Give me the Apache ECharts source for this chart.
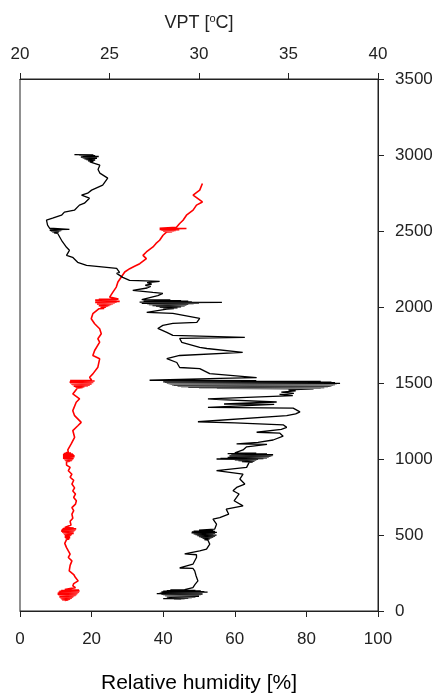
<!DOCTYPE html>
<html>
<head>
<meta charset="utf-8">
<script src="https://cdn.jsdelivr.net/npm/echarts@6/dist/echarts.min.js"></script>
<style>
  html, body { margin: 0; padding: 0; background: #fff; }
  #chart { width: 439px; height: 693px; }
</style>
</head>
<body>
<div id="chart"></div>
<script>
// Relative humidity profile: [RH %, altitude m], top of the sounding downwards.
// The dense patches are the level legs flown at each step.
const humidityProfile = [
  [15.2, 3003], [20.5, 3001], [16.5, 2999], [21.0, 2996], [17.5, 2993], [22.0, 2990], [17.0, 2987],
  [21.5, 2984], [17.5, 2981], [21.5, 2978], [18.0, 2975], [21.0, 2972], [18.5, 2969], [21.0, 2966],
  [19.0, 2962], [20.5, 2958], [19.5, 2954],
  [22.3, 2933], [21.8, 2905], [22.3, 2881], [24.5, 2848], [23.1, 2802], [20.0, 2769], [18.9, 2749],
  [17.2, 2736], [19.4, 2716], [18.0, 2683], [16.6, 2670], [15.2, 2637], [12.4, 2624], [11.6, 2604],
  [9.1, 2584], [7.4, 2571], [7.7, 2538], [8.3, 2518],
  [13.8, 2511], [8.3, 2509], [11.8, 2507], [8.3, 2505], [11.5, 2502], [8.6, 2500], [11.0, 2497],
  [9.0, 2494], [10.8, 2491], [9.5, 2488], [10.5, 2485],
  [11.0, 2472], [11.6, 2439], [13.0, 2393], [13.8, 2373], [13.0, 2340], [14.7, 2327], [16.1, 2294],
  [18.6, 2274], [24.2, 2261], [27.0, 2254], [27.8, 2228], [27.0, 2221], [28.7, 2195], [30.6, 2175],
  [35.0, 2172], [39.0, 2168], [35.5, 2160], [36.8, 2150], [35.0, 2143], [36.5, 2135], [35.5, 2125],
  [31.5, 2109], [37.1, 2096], [39.9, 2090], [38.5, 2075],
  [34.0, 2048], [42.0, 2046], [35.0, 2044], [45.0, 2042], [34.5, 2040], [47.0, 2038], [35.0, 2036],
  [48.0, 2034], [33.4, 2032], [56.4, 2030], [35.0, 2028], [50.0, 2026], [34.0, 2024], [48.5, 2022],
  [35.5, 2020], [47.0, 2017], [36.0, 2015], [46.5, 2012], [37.0, 2010], [46.0, 2007], [38.0, 2004],
  [45.0, 2001], [39.0, 1998], [44.0, 1995], [40.0, 1992], [43.0, 1989], [41.0, 1986],
  [35.4, 1964], [42.7, 1958], [50.2, 1925], [49.4, 1899], [42.7, 1892], [39.9, 1879], [38.5, 1859],
  [41.0, 1833], [42.7, 1813], [62.8, 1800], [44.6, 1793], [45.2, 1767], [50.2, 1734], [52.2, 1727],
  [62.2, 1701], [44.6, 1681], [41.0, 1661], [43.8, 1635], [44.6, 1602], [50.2, 1595], [53.0, 1562],
  [66.1, 1536], [55.8, 1530],
  [36.2, 1518], [66.0, 1516], [42.0, 1513], [84.0, 1510], [40.0, 1508], [87.0, 1506], [40.5, 1504],
  [88.0, 1502], [41.0, 1500], [89.4, 1498], [41.5, 1496], [88.5, 1494], [42.0, 1492], [88.0, 1490],
  [42.5, 1488], [87.5, 1486], [43.0, 1484], [87.0, 1482], [44.0, 1480], [86.5, 1478], [45.0, 1476],
  [86.0, 1474], [47.0, 1472], [85.0, 1470], [50.0, 1468], [84.0, 1466], [55.0, 1464], [82.0, 1462],
  [75.0, 1455], [77.0, 1448], [73.0, 1440], [76.5, 1432], [72.5, 1425], [76.2, 1417],
  [76.3, 1410], [52.5, 1396], [56.0, 1390], [71.7, 1375], [57.0, 1362], [71.0, 1360], [52.5, 1340],
  [76.3, 1335], [78.2, 1310], [77.0, 1297], [74.5, 1285], [49.7, 1245], [60.0, 1238], [73.5, 1225],
  [74.5, 1208], [73.0, 1195], [66.1, 1176], [72.6, 1170], [73.5, 1150], [70.7, 1125], [66.5, 1110],
  [60.5, 1099], [69.0, 1096], [63.3, 1080], [62.3, 1060],
  [60.0, 1040], [66.0, 1038], [58.0, 1035], [69.0, 1033], [59.0, 1030], [70.7, 1028], [59.5, 1025],
  [70.5, 1023], [58.5, 1020], [70.0, 1017], [59.0, 1015], [69.5, 1012], [58.0, 1010], [69.0, 1007],
  [56.0, 1004], [68.0, 1002], [54.9, 1000], [66.5, 998], [60.0, 995], [66.0, 992], [61.0, 989],
  [65.5, 986], [62.0, 983], [65.0, 980], [64.0, 978],
  [63.3, 945], [54.9, 923], [62.3, 901], [61.4, 868], [62.8, 835], [60.5, 813], [59.5, 791],
  [61.2, 770], [60.5, 747], [59.8, 725], [62.3, 692], [57.6, 670], [58.3, 637], [55.8, 615],
  [53.9, 604], [54.9, 571], [54.4, 539],
  [50.0, 532], [54.0, 529], [48.5, 526], [54.5, 523], [48.0, 520], [55.0, 517], [47.9, 514],
  [54.5, 511], [48.5, 508], [54.0, 505], [49.0, 502], [54.9, 499], [49.5, 496], [54.5, 493],
  [50.0, 490], [54.0, 487], [50.5, 484], [53.5, 481], [51.0, 478], [53.0, 474], [51.5, 470],
  [52.5, 466],
  [53.0, 440], [52.1, 407], [50.2, 396], [46.0, 376], [49.3, 370], [49.3, 352], [48.3, 308],
  [44.6, 283], [48.3, 281], [48.8, 264], [49.2, 230], [49.7, 198], [48.9, 175], [48.3, 154],
  [46.0, 140], [42.0, 138], [49.0, 136], [41.0, 134], [50.5, 132], [40.0, 130], [51.5, 128],
  [39.5, 126], [52.4, 124], [40.0, 122], [51.0, 120], [39.0, 118], [50.5, 116], [38.2, 114],
  [51.0, 112], [39.5, 110], [50.5, 108], [40.0, 106], [50.0, 104], [40.5, 102], [49.5, 100],
  [41.0, 98], [50.0, 96], [41.5, 94], [49.0, 92], [42.0, 90], [48.0, 88], [41.0, 86], [47.0, 84],
  [40.0, 82], [46.0, 80], [43.0, 78], [45.0, 76]
];

// Virtual potential temperature profile: [VPT °C, altitude m]
const vptProfile = [
  [30.19, 2813], [30.04, 2769], [29.67, 2736], [30.19, 2691], [29.86, 2670], [29.67, 2637],
  [29.30, 2604], [29.11, 2571], [28.92, 2549], [28.74, 2525],
  [27.8, 2518], [29.3, 2516], [27.9, 2514], [28.8, 2512], [27.8, 2510], [28.9, 2508], [27.9, 2506],
  [28.7, 2504], [28.0, 2502], [28.6, 2500], [28.0, 2498], [28.5, 2496], [28.2, 2494],
  [27.99, 2472], [27.80, 2439], [27.60, 2418], [27.43, 2395], [27.06, 2362], [26.87, 2340],
  [27.06, 2318], [26.69, 2285], [26.40, 2268], [26.13, 2252], [25.85, 2230], [25.66, 2197],
  [25.47, 2164], [25.38, 2131], [25.19, 2098], [25.01, 2065],
  [25.5, 2052], [24.4, 2050], [25.2, 2047], [24.2, 2045], [25.4, 2042], [24.2, 2040], [25.57, 2037],
  [24.3, 2035], [25.4, 2032], [24.2, 2030], [25.3, 2027], [24.3, 2025], [25.2, 2022], [24.3, 2020],
  [25.1, 2017], [24.4, 2014], [25.0, 2011], [24.4, 2008], [24.9, 2005], [24.5, 2002], [24.8, 1998],
  [24.5, 1995], [24.7, 1991], [24.4, 1988],
  [24.07, 1956], [23.98, 1923], [24.17, 1890], [24.45, 1857], [24.54, 1824], [24.35, 1791],
  [24.45, 1769], [24.17, 1714], [24.07, 1681], [24.45, 1659], [24.35, 1604], [24.07, 1560],
  [23.89, 1538],
  [24.0, 1518], [22.8, 1516], [24.17, 1513], [22.8, 1511], [24.1, 1508], [22.77, 1506], [24.1, 1503],
  [22.8, 1501], [24.0, 1498], [22.85, 1496], [24.0, 1493], [22.9, 1490], [23.9, 1487], [23.0, 1485],
  [23.8, 1482], [23.0, 1479], [23.6, 1476], [23.1, 1473], [23.5, 1470], [23.2, 1466], [23.3, 1462],
  [22.95, 1428], [23.33, 1396], [23.14, 1373], [22.95, 1318], [23.05, 1285], [23.42, 1241],
  [23.23, 1219], [22.95, 1187], [23.05, 1143], [22.86, 1099], [22.67, 1060],
  [22.7, 1044], [22.55, 1041], [22.85, 1039], [22.45, 1036], [22.95, 1033], [22.4, 1030], [23.0, 1027],
  [22.4, 1024], [23.05, 1021], [22.4, 1018], [23.05, 1015], [22.4, 1012], [23.0, 1009], [22.4, 1006],
  [23.0, 1003], [22.45, 1000], [22.95, 997], [22.5, 994], [22.9, 991], [22.55, 988], [22.8, 985],
  [22.6, 982], [22.7, 979],
  [22.6, 960], [22.8, 945], [22.7, 923], [22.9, 900], [22.8, 880], [23.0, 860], [22.9, 835],
  [23.05, 810], [22.95, 790], [23.1, 770], [23.0, 747], [23.15, 725], [23.1, 703], [22.9, 680],
  [23.0, 660], [22.9, 637], [22.95, 610], [22.8, 590], [22.85, 565],
  [22.9, 552], [22.5, 549], [23.0, 546], [22.4, 543], [23.14, 540], [22.35, 537], [23.1, 534],
  [22.3, 531], [23.05, 528], [22.3, 525], [23.0, 522], [22.35, 519], [22.95, 516], [22.4, 513],
  [23.0, 510], [22.45, 507], [22.9, 504], [22.5, 501], [22.85, 498], [22.5, 494], [22.8, 490],
  [22.5, 486], [22.8, 482], [22.55, 478], [22.75, 474], [22.6, 470], [22.7, 466],
  [22.5, 445], [22.6, 417], [22.7, 395], [22.8, 374], [22.7, 352], [22.9, 330], [22.8, 300],
  [22.75, 264], [23.0, 240], [23.1, 220], [23.25, 198], [23.0, 180], [22.95, 165], [23.1, 154],
  [23.0, 143], [22.5, 141], [23.3, 138], [22.3, 135], [23.33, 132], [22.2, 129], [23.3, 126],
  [22.15, 123], [23.25, 120], [22.1, 117], [23.2, 114], [22.1, 111], [23.15, 108], [22.15, 105],
  [23.1, 102], [22.2, 99], [23.0, 96], [22.2, 93], [22.95, 90], [22.25, 87], [22.9, 84], [22.3, 81],
  [22.8, 78], [22.35, 75], [22.7, 72], [22.5, 69]
];

// Axis ranges: [min, max, step]
const humidityAxis = [0, 100, 20];
const vptAxis = [20, 40, 5];
const altitudeAxis = [0, 3500, 500];

const font = '"Liberation Sans", Arial, sans-serif';
const ink = '#222';

const axisLineStyle = { onZero: false, lineStyle: { color: ink, width: 1 } };
const tickStyle = { show: true, inside: false, length: 6, lineStyle: { color: ink, width: 1 } };
const plain = v => String(v);

const chart = echarts.init(document.getElementById('chart'), null, { renderer: 'canvas' });
chart.setOption({
  animation: false,
  backgroundColor: '#fff',
  grid: {
    left: 20, right: 61, top: 79, bottom: 82,
    show: true, borderColor: ink, borderWidth: 1,
    containLabel: false, outerBoundsMode: 'none'
  },
  xAxis: [
    {
      type: 'value', position: 'bottom',
      min: humidityAxis[0], max: humidityAxis[1], interval: humidityAxis[2],
      axisLine: axisLineStyle, axisTick: tickStyle, splitLine: { show: false },
      axisLabel: { color: ink, fontFamily: font, fontSize: 17, margin: 20, formatter: plain },
      name: 'Relative humidity [%]', nameLocation: 'middle', nameGap: 62,
      nameTextStyle: { color: '#000', fontFamily: font, fontSize: 21 }
    },
    {
      type: 'value', position: 'top',
      min: vptAxis[0], max: vptAxis[1], interval: vptAxis[2],
      axisLine: axisLineStyle, axisTick: tickStyle, splitLine: { show: false },
      axisLabel: { color: ink, fontFamily: font, fontSize: 17, margin: 16, formatter: plain },
      name: 'VPT [{sup|o}C]', nameLocation: 'middle', nameGap: 46,
      nameTextStyle: {
        color: ink, fontFamily: font, fontSize: 18,
        rich: { sup: { fontSize: 11, fontFamily: font, color: ink, verticalAlign: 'top', padding: [0, 0, 9, 0] } }
      }
    }
  ],
  yAxis: [
    {
      type: 'value', position: 'right',
      min: altitudeAxis[0], max: altitudeAxis[1], interval: altitudeAxis[2],
      axisLine: axisLineStyle, axisTick: tickStyle, splitLine: { show: false },
      axisLabel: { color: ink, fontFamily: font, fontSize: 17, margin: 17, align: 'left', formatter: plain }
    }
  ],
  series: [
    {
      name: 'RH', type: 'line', xAxisIndex: 0, yAxisIndex: 0,
      data: humidityProfile, showSymbol: false, symbol: 'none',
      lineStyle: { color: '#000', width: 1.3 }, z: 3
    },
    {
      name: 'VPT', type: 'line', xAxisIndex: 1, yAxisIndex: 0,
      data: vptProfile, showSymbol: false, symbol: 'none',
      lineStyle: { color: '#ff0000', width: 1.6 }, z: 2
    }
  ]
});
</script>
</body>
</html>
